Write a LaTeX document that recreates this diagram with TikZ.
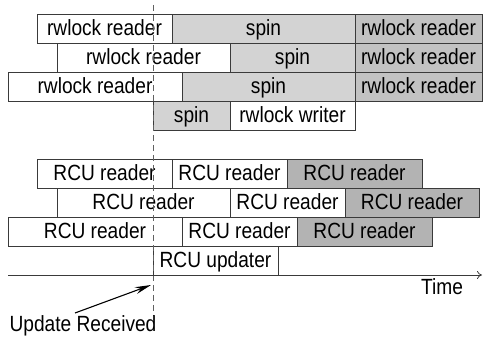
\documentclass[tikz,border=0pt]{standalone}
\usepackage{fontspec}
\setmainfont{Liberation Sans}[FakeStretch=0.87]
\usetikzlibrary{arrows.meta}

\definecolor{spinfill}{HTML}{D3D3D3}
\definecolor{holdfill}{HTML}{C2C2C2}
\definecolor{rcufill}{HTML}{B3B3B3}
\definecolor{edge}{HTML}{3A3A3A}

\newcommand\lblfont{\fontsize{22}{26}\selectfont}

\begin{document}
\begin{tikzpicture}[x=1pt, y=-1pt,
  slot/.style={draw=edge, line width=0.8pt, minimum height=29pt,
    inner sep=0pt, outer sep=0pt, anchor=north west,
    text height=16pt, text depth=2pt, font=\lblfont, fill=white},
  spinslot/.style={slot, fill=spinfill},
  holdslot/.style={slot, fill=holdfill},
  rcuslot/.style={slot, fill=rcufill},
  caption/.style={font=\lblfont, inner sep=0pt}]

\useasboundingbox (0,0) rectangle (483,337);

% reader-writer lock timeline
\node[slot, minimum width=135pt] (a1) at (37,14) {rwlock reader};
\node[spinslot, minimum width=183pt] (s1) at (172,14) {spin};
\node[holdslot, minimum width=127pt] (h1) at (355,14) {rwlock reader};

\node[slot, minimum width=173pt] (a2) at (57,43) {rwlock reader};
\node[spinslot, minimum width=125pt] (s2) at (230,43) {spin};
\node[holdslot, minimum width=127pt] (h2) at (355,43) {rwlock reader};

\node[slot, minimum width=174pt] (a3) at (8,72) {rwlock reader};
\node[spinslot, minimum width=173pt] (s3) at (182,72) {spin};
\node[holdslot, minimum width=127pt] (h3) at (355,72) {rwlock reader};

\node[spinslot, minimum width=77pt] (s4) at (153,101) {spin};
\node[slot, minimum width=125pt] (w4) at (230,101) {rwlock writer};

% RCU timeline
\node[slot, minimum width=135pt] (b1) at (37,159) {RCU reader};
\node[slot, minimum width=115pt] (c1) at (172,159) {RCU reader};
\node[rcuslot, minimum width=135pt] (d1) at (287,159) {RCU reader};

\node[slot, minimum width=173pt] (b2) at (57,188) {RCU reader};
\node[slot, minimum width=115pt] (c2) at (230,188) {RCU reader};
\node[rcuslot, minimum width=134pt] (d2) at (345,188) {RCU reader};

\node[slot, minimum width=174pt] (b3) at (8,217) {RCU reader};
\node[slot, minimum width=115pt] (c3) at (182,217) {RCU reader};
\node[rcuslot, minimum width=135pt] (d3) at (297,217) {RCU reader};

\node[slot, minimum width=125pt] (u4) at (153,246) {RCU updater};

% moment the update arrives
\coordinate (m0) at (153,5);
\coordinate (m1) at (153,316);
\draw[draw=edge!80, line width=0.8pt, dash pattern=on 6pt off 4pt] (m0) -- (m1);

% time axis
\coordinate (t0) at (8,275);
\coordinate (t1) at (482,275);
\draw[draw=edge, line width=0.8pt, -{To[length=5pt,width=8pt]}] (t0) -- (t1);
\node[caption] (time) at (442,287) {Time};

% annotation
\node[caption] (ur) at (83,326) {Update Received};
\coordinate (ua) at (75,313);
\coordinate (ub) at (151,285);
\draw[line width=1.1pt, -{Stealth[length=16pt,width=7pt]}] (ua) -- (ub);
\end{tikzpicture}
\end{document}
